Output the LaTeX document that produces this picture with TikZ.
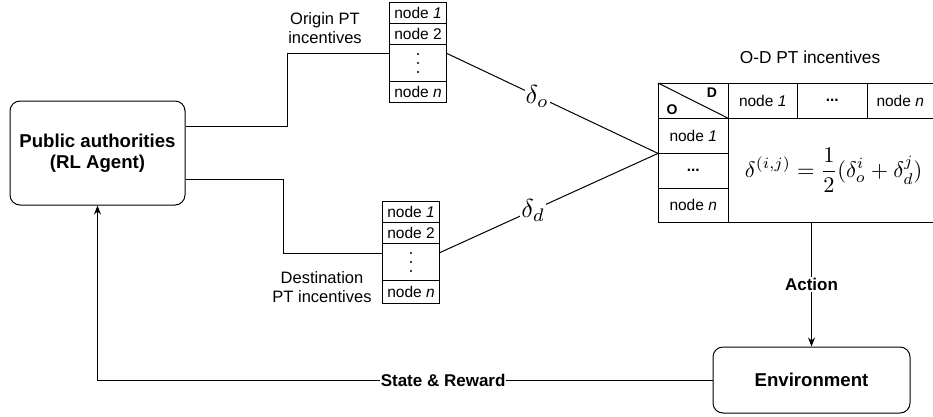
\documentclass[tikz,border=0pt]{standalone}
\usepackage{graphicx}
\usepackage[no-math]{fontspec}
\setmainfont{Liberation Sans}
\usetikzlibrary{arrows.meta}
\begin{document}
\begin{tikzpicture}[x=1pt,y=-1pt,
  line/.style={line width=1pt},
  cell/.style={draw, line width=1pt, inner sep=0pt, anchor=north west,
    font=\fontsize{15.5}{18}\selectfont},
  gridcell/.style={inner sep=0pt, anchor=north west,
    font=\fontsize{15.5}{18}\selectfont},
  rbox/.style={draw, line width=1pt, rounded corners=10pt, align=center,
    inner sep=0pt, font=\bfseries\fontsize{18.6}{21}\selectfont},
  lbl/.style={align=center, inner sep=0pt, font=\fontsize{16.5}{19}\selectfont},
  tag/.style={fill=white, inner sep=1pt, font=\bfseries\fontsize{17}{20}\selectfont},
  dlabel/.style={fill=white, inner sep=1pt, font=\fontsize{10}{12}\selectfont},
  arr/.style={line width=1pt, -{Stealth[length=9pt,width=7pt]}}
]
\useasboundingbox (0,0) rectangle (933,416);

% agent and environment
\node[rbox, minimum width=175pt, minimum height=104pt] (pa) at (97.5,153)
  {Public authorities\\(RL Agent)};
\node[rbox, minimum width=197pt, minimum height=66pt] (env) at (811.5,380)
  {Environment};

% origin incentive vector
\node[cell, minimum width=57pt, minimum height=21pt] (o1) at (389,2) {node \textit{1}};
\node[cell, minimum width=57pt, minimum height=21pt] (o2) at (389,23) {node 2};
\node[cell, minimum width=57pt, minimum height=37pt] (o3) at (389,44) {};
\node[cell, minimum width=57pt, minimum height=21pt] (o4) at (389,81) {node \textit{n}};
\foreach \dy in {-9,0,9} \fill ([yshift=\dy pt]o3.center) circle (1.1pt);
\node[lbl] (olab) at (325,28) {Origin PT\\incentives};

% destination incentive vector
\node[cell, minimum width=57pt, minimum height=21pt] (d1) at (382,201) {node \textit{1}};
\node[cell, minimum width=57pt, minimum height=21pt] (d2) at (382,222) {node 2};
\node[cell, minimum width=57pt, minimum height=37pt] (d3) at (382,243) {};
\node[cell, minimum width=57pt, minimum height=23pt] (d4) at (382,280) {node \textit{n}};
\foreach \dy in {-9,0,9} \fill ([yshift=\dy pt]d3.center) circle (1.1pt);
\node[lbl] (dlab) at (322,287) {Destination\\PT incentives};

% O-D incentive matrix
\node[lbl, font=\fontsize{17.3}{20}\selectfont] (odt) at (810,57) {O-D PT incentives};
\node[gridcell, minimum width=70pt, minimum height=35pt] (corner) at (658,83) {};
\node[font=\bfseries\fontsize{14}{16}\selectfont, inner sep=0pt] (dl) at (712,93) {D};
\node[font=\bfseries\fontsize{14}{16}\selectfont, inner sep=0pt] (ol) at (672,110) {O};
\node[gridcell, minimum width=69pt, minimum height=35pt] (h1) at (728,83) {node \textit{1}};
\node[gridcell, minimum width=70pt, minimum height=35pt] (h2) at (797,83) {\textbf{...}};
\node[gridcell, minimum width=66pt, minimum height=35pt] (h3) at (867,83) {node \textit{n}};
\node[gridcell, minimum width=70pt, minimum height=35pt] (r1) at (658,118) {node \textit{1}};
\node[gridcell, minimum width=70pt, minimum height=35pt] (r2) at (658,153) {\textbf{...}};
\node[gridcell, minimum width=70pt, minimum height=34pt] (r3) at (658,188) {node \textit{n}};
\node[gridcell, minimum width=205pt, minimum height=104pt, font=\fontsize{10}{12}\selectfont]
  (body) at (731,118) {\scalebox{2.24}{$\displaystyle \delta^{(i,j)} = \frac{1}{2}(\delta_o^i + \delta_d^j)$}};

\draw[line] (corner.north west) -- (h3.north east);
\draw[line] (corner.south west) -- (h3.south east);
\draw[line] (r3.south west) -- (h3.south east |- r3.south);
\draw[line] (corner.north west) -- (r3.south west);
\draw[line] (corner.north east) -- (corner.east |- r3.south);
\draw[line] (h1.north east) -- (h1.south east);
\draw[line] (h2.north east) -- (h2.south east);
\draw[line] (r1.south west) -- (r1.south east);
\draw[line] (r2.south west) -- (r2.south east);
\draw[line] (corner.north west) -- (corner.south east);

% ports
\coordinate (oin) at (389,53);
\coordinate (oout) at (446,53);
\coordinate (din) at (382,253);
\coordinate (dout) at (439,253);

% connectors
\draw[line] ([yshift=27pt]pa.east) -- ++(102,0) |- (oin);
\draw[line] ([yshift=-26pt]pa.east) -- ++(98,0) |- (din);
\draw[line] (oout) -- node[dlabel, pos=0.43] (dso) {\scalebox{2.6}{$\delta_o$}} (r1.south west);
\draw[line] (dout) -- node[dlabel, pos=0.43] (dsd) {\scalebox{2.6}{$\delta_d$}} (r1.south west);
\draw[arr] (env.north |- r3.south) -- node[tag] (act) {Action} (env.north);
\draw[arr] (env.west) -| node[tag, pos=0.219] (sr) {State \& Reward} (pa.south);
\end{tikzpicture}
\end{document}
